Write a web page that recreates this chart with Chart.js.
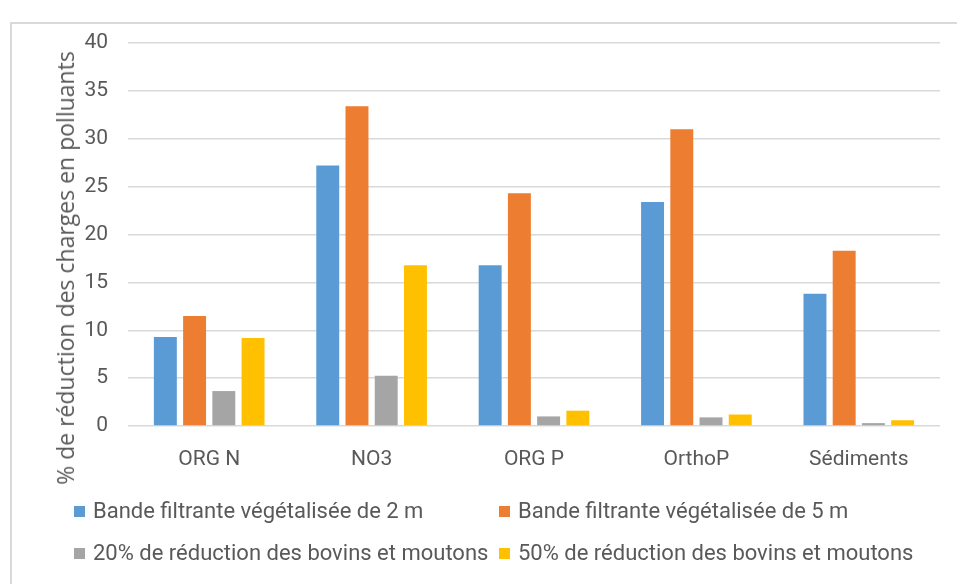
<!DOCTYPE html>
<html>
<head>
<meta charset="utf-8">
<script src="https://cdn.jsdelivr.net/npm/chart.js@4/dist/chart.umd.min.js"></script>
<style>
  html, body { margin: 0; padding: 0; background: #fff; }
  #wrap { position: relative; width: 957px; height: 584px; overflow: hidden; }
  #frame { position: absolute; left: 10px; top: 22px; width: 960px; height: 600px;
           border-top: 2px solid #d9d9d9; border-left: 2px solid #d9d9d9; }
  #yTitle { position: absolute; left: 65px; top: 268px; transform: translate(-50%, -50%) rotate(-90deg);
            white-space: nowrap; font-family: "Open Sans", sans-serif; font-size: 23px; color: #595959; }
  .leg { position: absolute; font-family: Roboto, sans-serif; font-size: 22px; color: #595959;
         white-space: nowrap; line-height: 24px; }
  .leg i { display: inline-block; width: 11px; height: 11px; margin-right: 8px; vertical-align: 1px; }
  canvas { position: absolute; left: 0; top: 0; }
</style>
</head>
<body>
<div id="wrap">
  <div id="frame"></div>
  <canvas id="chart" width="957" height="584"></canvas>
  <div id="yTitle">% de réduction des charges en polluants</div>
  <div id="legend"></div>
</div>
<script>
const categories = ['ORG N', 'NO3', 'ORG P', 'OrthoP', 'Sédiments'];
const band2m = [9.3, 27.2, 16.8, 23.4, 13.8];
const band5m = [11.5, 33.4, 24.3, 31.0, 18.3];
const cut20 = [3.65, 5.25, 1.0, 0.9, 0.3];
const cut50 = [9.2, 16.8, 1.6, 1.2, 0.6];

const seriesNames = [
  'Bande filtrante végétalisée de 2 m',
  'Bande filtrante végétalisée de 5 m',
  '20% de réduction des bovins et moutons',
  '50% de réduction des bovins et moutons'
];
const colors = ['#5B9BD5', '#ED7D31', '#A5A5A5', '#FFC000'];
const seriesValues = [band2m, band5m, cut20, cut50];

// legend in two columns like the original
const legendPos = [[74, 499], [499, 499], [74, 541], [499, 541]];
const legendEl = document.getElementById('legend');
seriesNames.forEach((name, i) => {
  const d = document.createElement('div');
  d.className = 'leg';
  d.style.left = legendPos[i][0] + 'px';
  d.style.top = legendPos[i][1] + 'px';
  d.innerHTML = '<i style="background:' + colors[i] + '"></i>' + name;
  legendEl.appendChild(d);
});

const tickFont = { family: 'Roboto, sans-serif', size: 21 };

new Chart(document.getElementById('chart').getContext('2d'), {
  type: 'bar',
  data: {
    labels: categories,
    datasets: seriesNames.map((name, i) => ({
      label: name,
      data: seriesValues[i],
      backgroundColor: colors[i],
      borderWidth: 0,
      categoryPercentage: 0.72,
      barPercentage: 0.785
    }))
  },
  options: {
    responsive: false,
    animation: false,
    layout: { padding: { left: 80, right: 17, top: 43, bottom: 108 } },
    plugins: {
      legend: { display: false },
      tooltip: { enabled: false }
    },
    scales: {
      x: {
        grid: { display: false },
        border: { display: false },
        ticks: { color: '#595959', font: tickFont, padding: 13 },
        afterFit(scale) { scale.height = 50; }
      },
      y: {
        min: 0,
        max: 40,
        ticks: { stepSize: 5, color: '#595959', font: tickFont, padding: 20 },
        grid: { color: '#d9d9d9', lineWidth: 1.5, drawTicks: false },
        border: { display: false },
        afterFit(scale) { scale.width = 48; }
      }
    }
  }
});
</script>
</body>
</html>
